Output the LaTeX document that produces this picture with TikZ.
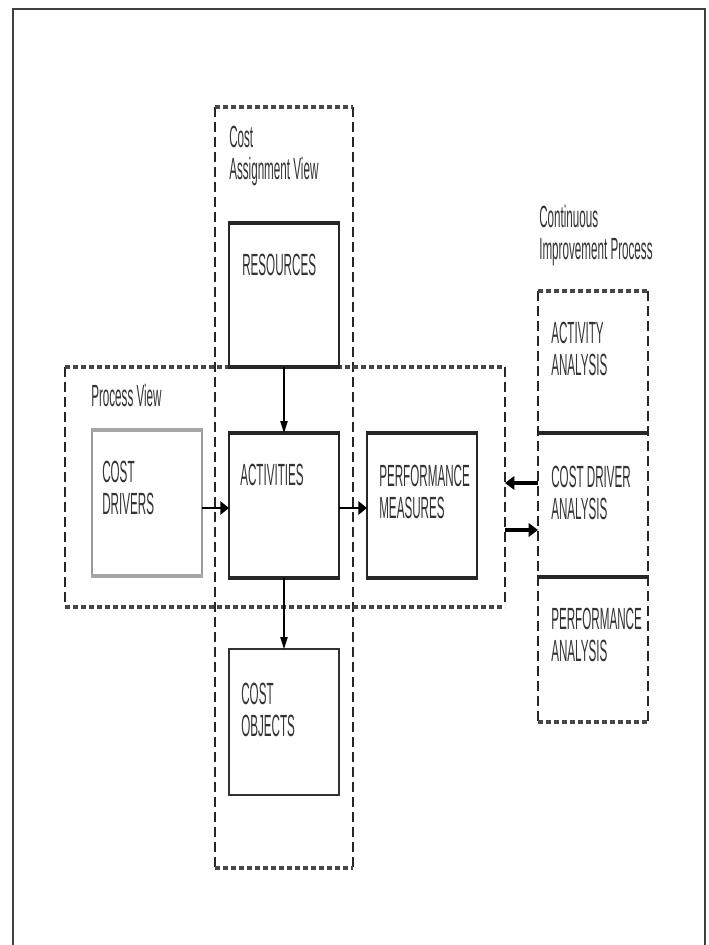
\documentclass[tikz,border=0pt]{standalone}
\usepackage{fontspec}
\setmainfont{Liberation Sans}[FakeStretch=0.38]
\usetikzlibrary{arrows.meta,fit}
\definecolor{txt}{HTML}{333333}
\tikzset{
  lbl/.style={anchor=north west, inner sep=0pt, align=left, text=txt,
    font=\fontsize{23}{24}\selectfont},
  region/.style={inner sep=0pt, outer sep=0pt, draw=none},
  hdash/.style={draw=black!72, line width=2.3pt, dash pattern=on 3.9pt off 2.1pt},
  vdash/.style={draw=black!85, line width=0.8pt, dash pattern=on 7.5pt off 3.75pt},
  thinside/.style={draw=black!85, line width=0.9pt},
  thickedge/.style={draw=black!85, line width=3pt},
  grayside/.style={draw=black!40, line width=1.1pt},
  grayedge/.style={draw=black!35, line width=2.4pt},
  thinarr/.style={draw=black, line width=0.9pt, -{Triangle[length=9pt,width=5.5pt]}},
  boldarr/.style={draw=black, line width=1.8pt, -{Triangle[length=6.5pt,width=10pt]}},
  heavyarr/.style={draw=black, line width=2.6pt, -{Triangle[length=7pt,width=10pt]}},
}
\newcommand\dashregion[1]{%
  \draw[vdash] (#1.north west) -- (#1.south west);
  \draw[vdash] (#1.north east) -- (#1.south east);
  \draw[hdash] (#1.north west) -- (#1.north east);
  \draw[hdash] (#1.south west) -- (#1.south east);
}
\newcommand\solidbox[1]{%
  \draw[thinside] (#1.north west) -- (#1.south west) (#1.north east) -- (#1.south east);
  \draw[thickedge] ([xshift=-0.45pt]#1.north west) -- ([xshift=0.45pt]#1.north east);
  \draw[thickedge] ([xshift=-0.45pt]#1.south west) -- ([xshift=0.45pt]#1.south east);
}
\begin{document}
\begin{tikzpicture}[x=0.75pt,y=-0.75pt]
\useasboundingbox (0,0) rectangle (709,945);
\fill[white] (0,0) rectangle (709,945);
% page frame
\draw[black!75, line width=0.9pt] (13,945) -- (13,9) -- (705,9) -- (705,945);
\draw[black!75, line width=1.6pt] (13,9) -- (47,9);
\draw[black!75, line width=1.6pt] (682,9) -- (705,9);

% regions
\node[region, fit={(215,107)(353,868)}] (cav) {};
\node[region, fit={(65,367)(505,607)}] (pv) {};
\node[region, fit={(538,291)(648,722)}] (cip) {};
\dashregion{cav}
\dashregion{pv}
\dashregion{cip}

% boxes
\node[region, fit={(229,223)(339,367)}] (res) {};
\node[region, fit={(92,430)(202,576)}] (cd) {};
\node[region, fit={(229,433)(339,578)}] (act) {};
\node[region, fit={(367,433)(477,578)}] (pm) {};
\node[region, fit={(229,649)(339,795)}] (co) {};
\node[region, fit={(538,291)(648,433)}] (aa) {};
\node[region, fit={(538,433)(648,577)}] (cda) {};
\node[region, fit={(538,577)(648,722)}] (pa) {};

\solidbox{res}
\solidbox{act}
\solidbox{pm}
\draw[grayside] (cd.north west) -- (cd.south west) (cd.north east) -- (cd.south east);
\draw[grayedge] ([xshift=-0.55pt]cd.north west) -- ([xshift=0.55pt]cd.north east);
\draw[grayedge] ([xshift=-0.55pt]cd.south west) -- ([xshift=0.55pt]cd.south east);
\draw[draw=black!80, line width=1.3pt] (co.north west) rectangle (co.south east);
\draw[thickedge] ([xshift=-0.4pt]cda.north west) -- ([xshift=0.4pt]cda.north east);
\draw[thickedge] ([xshift=-0.4pt]cda.south west) -- ([xshift=0.4pt]cda.south east);

% labels
\node[lbl] (lcav) at (229,126) {Cost\\Assignment View};
\node[lbl] (lcip) at (539,205) {Continuous\\Improvement Process};
\node[lbl] (lpv) at (91,384) {Process View};
\node[lbl] (tres) at (242,254) {RESOURCES};
\node[lbl] (tcd) at (102,461) {COST\\DRIVERS};
\node[lbl] (tact) at (240,464) {ACTIVITIES};
\node[lbl] (tpm) at (379,465) {PERFORMANCE\\MEASURES};
\node[lbl] (tco) at (241,683) {COST\\OBJECTS};
\node[lbl] (taa) at (551,322) {ACTIVITY\\ANALYSIS};
\node[lbl] (tcda) at (551,466) {COST DRIVER\\ANALYSIS};
\node[lbl] (tpa) at (551,608) {PERFORMANCE\\ANALYSIS};

% connectors
\draw[thinarr] (res.south) -- (act.north);
\draw[thinarr] (act.south) -- (co.north);
\draw[boldarr] (cd.east |- 0,508) -- (act.west |- 0,508);
\draw[boldarr] (act.east |- 0,508) -- (pm.west |- 0,508);
\draw[heavyarr] (cda.west |- 0,483) -- (pv.east |- 0,483);
\draw[heavyarr] (pv.east |- 0,530) -- (cda.west |- 0,530);
\end{tikzpicture}
\end{document}
